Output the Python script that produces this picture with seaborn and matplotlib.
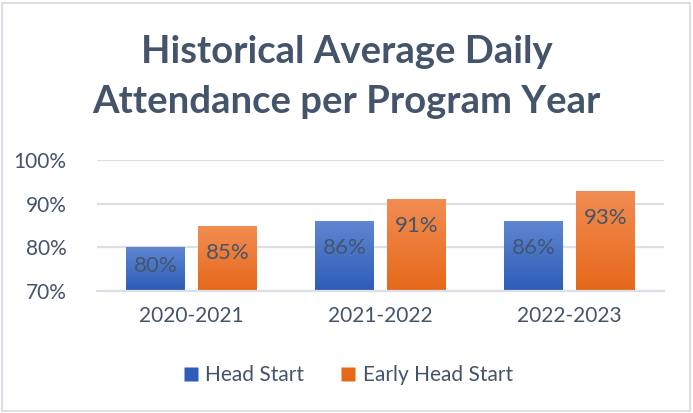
import numpy as np
import pandas as pd
import seaborn as sns
import matplotlib.pyplot as plt
from matplotlib.colors import LinearSegmentedColormap
from matplotlib.patches import Rectangle
from matplotlib.lines import Line2D

years = ["2020-2021", "2021-2022", "2022-2023"]
head_start = [0.80, 0.86, 0.86]
early_head_start = [0.85, 0.91, 0.93]
series = ["Head Start", "Early Head Start"]

df = pd.DataFrame({
    "year": years * 2,
    "program": [series[0]] * 3 + [series[1]] * 3,
    "value": head_start + early_head_start,
})

text_col = "#44546A"
grid_col = "#DCE0E6"
# top / bottom colours of the gradient fills
grads = {
    series[0]: ("#5E86D2", "#2D5DB8"),
    series[1]: ("#F28D52", "#E6681A"),
}

sns.set_theme(style="white")
plt.rcParams["font.family"] = ["Lato", "DejaVu Sans"]

fig = plt.figure(figsize=(6.93, 4.13), dpi=100)
ax = fig.add_axes([97 / 693, 1 - 291 / 413, (664 - 97) / 693, (291 - 160) / 413])

sns.barplot(data=df, x="year", y="value", hue="program", order=years,
            hue_order=series, palette=[grads[s][1] for s in series],
            width=0.76, gap=0.18, ax=ax, legend=False, errorbar=None)

ax.set_ylim(0.7, 1.0)
ax.set_yticks([0.7, 0.8, 0.9, 1.0])
ax.set_yticklabels([f"{int(round(t * 100))}%" for t in ax.get_yticks()])
ax.yaxis.grid(True, color=grid_col, linewidth=1.6)
ax.set_axisbelow(True)
for s in ["top", "right", "left"]:
    ax.spines[s].set_visible(False)
ax.spines["bottom"].set_color(grid_col)
ax.spines["bottom"].set_linewidth(1.6)
ax.set_xlabel("")
ax.set_ylabel("")
ax.tick_params(axis="y", length=0, pad=22, labelsize=15, labelcolor=text_col)
ax.tick_params(axis="x", length=0, pad=11, labelsize=15, labelcolor=text_col)

# gradient fill clipped to each bar
for cont, name in zip(ax.containers, series):
    cmap = LinearSegmentedColormap.from_list(name, [grads[name][1], grads[name][0]])
    for bar in cont:
        x0, y0 = bar.get_x(), bar.get_y()
        w, h = bar.get_width(), bar.get_height()
        img = ax.imshow(np.linspace(0, 1, 64).reshape(-1, 1), cmap=cmap,
                        extent=[x0, x0 + w, 0.7, y0 + h], origin="lower",
                        aspect="auto", zorder=bar.get_zorder())
        img.set_clip_path(bar)
        bar.set_facecolor("none")
        bar.set_edgecolor("none")
        v = y0 + h
        ty = v - min(0.062, (v - 0.7) * 0.42)
        ax.text(x0 + w / 2, ty, f"{round(v * 100)}%", ha="center", va="center",
                fontsize=16, color=text_col, zorder=5)
ax.set_xlim(-0.5, 2.5)
ax.set_ylim(0.7, 1.0)

fig.text(0.5, 1 - 52 / 413, "Historical Average Daily", ha="center", va="center",
         fontsize=27.5, fontweight="bold", color=text_col)
fig.text(0.5, 1 - 102 / 413, "Attendance per Program Year", ha="center", va="center",
         fontsize=27.5, fontweight="bold", color=text_col)

handles = [Line2D([], [], marker="s", linestyle="", markersize=10,
                  markerfacecolor=grads[s][1], markeredgecolor="none") for s in series]
fig.legend(handles, series, loc="center", bbox_to_anchor=(0.5, 1 - 375 / 413),
           ncol=2, frameon=False, fontsize=15, labelcolor=text_col,
           handletextpad=0.2, columnspacing=1.6, handlelength=1.0)

fig.patches.append(Rectangle((2 / 693, 2 / 413), 688 / 693, 408 / 413,
                             transform=fig.transFigure, fill=False,
                             edgecolor=grid_col, linewidth=1.5))

fig.savefig("out.png", dpi=100)
